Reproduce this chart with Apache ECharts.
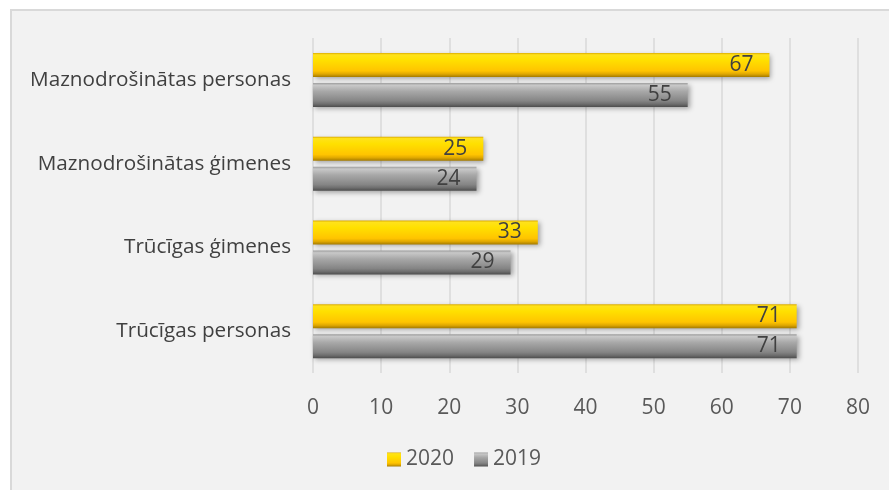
<!DOCTYPE html>
<html><head><meta charset="utf-8">
<script src="https://cdn.jsdelivr.net/npm/echarts@6/dist/echarts.min.js"></script>
<style>
html,body{margin:0;padding:0;background:#fff;width:889px;height:490px;overflow:hidden;}
#frame{position:absolute;left:10px;top:9px;width:890px;height:490px;background:#f2f2f2;border-left:2px solid #d9d9d9;border-top:2px solid #d9d9d9;box-sizing:border-box;}
#c{position:absolute;left:0;top:0;width:889px;height:490px;}
</style></head>
<body><div id="frame"></div><div id="c"></div>
<script>
const categories = ['Trūcīgas personas','Trūcīgas ģimenes','Maznodrošinātas ģimenes','Maznodrošinātas personas'];
const values2020 = [71, 33, 25, 67];
const values2019 = [71, 29, 24, 55];
const xTicks = [0,10,20,30,40,50,60,70,80];

const font = '"Open Sans", sans-serif';
const yellowGrad = {type:'linear',x:0,y:0,x2:0,y2:1,colorStops:[
  {offset:0,color:'#d9a800'},{offset:0.08,color:'#ffe21a'},{offset:0.3,color:'#ffe000'},
  {offset:0.75,color:'#ffc400'},{offset:0.88,color:'#e0a800'},{offset:1,color:'#a67c00'}]};
const grayGrad = {type:'linear',x:0,y:0,x2:0,y2:1,colorStops:[
  {offset:0,color:'#9a9a9a'},{offset:0.1,color:'#c8c8c8'},{offset:0.35,color:'#a8a8a8'},
  {offset:0.75,color:'#858585'},{offset:0.88,color:'#6e6e6e'},{offset:1,color:'#4e4e4e'}]};
const labelCfg = {show:true,position:'insideRight',distance:16,color:'#404040',fontSize:21,fontFamily:font};
const chart = echarts.init(document.getElementById('c'));
chart.setOption({
  backgroundColor:'transparent',
  animation:false,
  grid:{left:313,right:31,top:38,bottom:117,containLabel:false},
  legend:{bottom:15,left:382,itemWidth:14,itemHeight:14,itemGap:20,icon:'rect',
    data:['2020','2019'],textStyle:{fontSize:21,color:'#595959',fontFamily:font}},
  xAxis:{type:'value',min:0,max:80,interval:10,
    axisLine:{show:false},axisTick:{show:false},
    splitLine:{lineStyle:{color:'#d9d9d9',width:1.5}},
    axisLabel:{fontSize:21,color:'#595959',fontFamily:font,margin:25}},
  yAxis:{type:'category',data:categories,axisLine:{show:false},axisTick:{show:false},
    axisLabel:{fontSize:20.7,color:'#404040',fontFamily:font,margin:22}},
  series:[
    {name:'2020',type:'bar',data:values2020,barWidth:24,barGap:'25%',barCategoryGap:'38%',
     itemStyle:{color:yellowGrad,shadowBlur:5,shadowColor:'rgba(0,0,0,0.35)',shadowOffsetX:2,shadowOffsetY:2},
     label:labelCfg},
    {name:'2019',type:'bar',data:values2019,barWidth:24,barGap:'25%',
     itemStyle:{color:grayGrad,shadowBlur:5,shadowColor:'rgba(0,0,0,0.35)',shadowOffsetX:2,shadowOffsetY:2},
     label:labelCfg}
  ]
});
</script></body></html>
